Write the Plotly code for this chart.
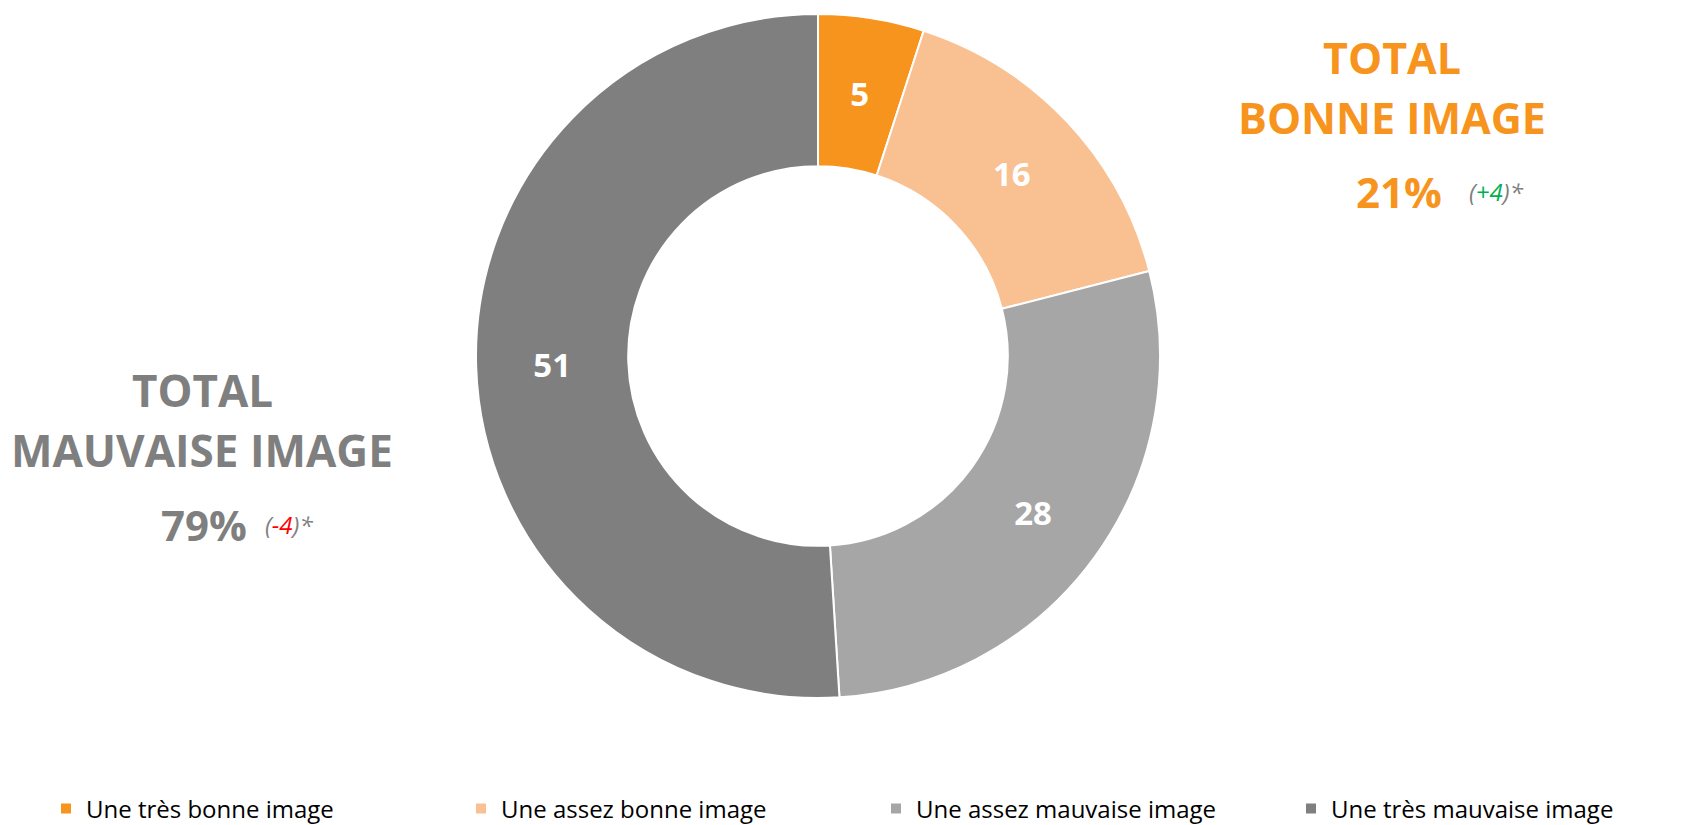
import plotly.graph_objects as go

labels = ["Une très bonne image", "Une assez bonne image", "Une assez mauvaise image", "Une très mauvaise image"]
values = [5, 16, 28, 51]
colors = ["#F7941D", "#F9C192", "#A6A6A6", "#7F7F7F"]

total_bonne = 21
delta_bonne = "+4"
total_mauvaise = 79
delta_mauvaise = "-4"

W, H = 1681, 825
OFF = 8  # page body margin
cx, cy, R = 818 - OFF, 356 - OFF, 342
HOLE = 0.555

def dom(r):
    return dict(x=[(cx - r) / W, (cx + r) / W], y=[1 - (cy + r) / H, 1 - (cy - r) / H])

# donut slices
fig = go.Figure(go.Pie(
    labels=labels, values=values, hole=HOLE, sort=False, direction="clockwise", rotation=0,
    marker=dict(colors=colors, line=dict(color="white", width=2)),
    textinfo="none", domain=dom(R), showlegend=True,
))

# value labels: transparent companion ring so every label sits at the middle of the donut ring
H2 = 0.73
R2 = R * (1 + HOLE) / 2 / ((1 + H2) / 2)
fig.add_trace(go.Pie(
    labels=labels, values=values, hole=H2, sort=False, direction="clockwise", rotation=0,
    marker=dict(colors=["rgba(0,0,0,0)"] * len(values), line=dict(width=0)),
    textinfo="value", textposition="inside", insidetextorientation="horizontal",
    textfont=dict(family="Open Sans", size=33, color="white", weight="bold"),
    domain=dom(R2), showlegend=False, hoverinfo="skip",
))

orange = "#F7941D"
gray = "#7F7F7F"

def ann(x, y, text, size, color, bold=True, xanchor="center"):
    fig.add_annotation(x=(x - OFF) / W, y=1 - (y - OFF) / H, xref="paper", yref="paper", text=text,
                       showarrow=False, xanchor=xanchor, yanchor="middle",
                       font=dict(family="Open Sans", size=size, color=color, weight="bold" if bold else "normal"))

ann(1392, 58, "TOTAL", 43, orange)
ann(1392, 118, "BONNE IMAGE", 43, orange)
ann(1399, 191, f"{total_bonne}%", 42, orange)
ann(1467, 191, f"<i>(<span style='color:#00B050'>{delta_bonne}</span>)*</i>", 24, gray, bold=False, xanchor="left")

ann(202, 390, "TOTAL", 44, gray)
ann(202, 450, "MAUVAISE IMAGE", 44, gray)
ann(204, 524, f"{total_mauvaise}%", 42, gray)
ann(263, 524, f"<i>(<span style='color:#FF0000'>{delta_mauvaise}</span>)*</i>", 24, gray, bold=False, xanchor="left")

fig.update_layout(
    width=W, height=H, margin=dict(l=0, r=0, t=0, b=0, autoexpand=False),
    paper_bgcolor="white", plot_bgcolor="white",
    legend=dict(orientation="h", x=0.0226, xanchor="left", y=1 - (809 - OFF) / H, yanchor="middle",
                entrywidth=370, entrywidthmode="pixels", bgcolor="rgba(0,0,0,0)",
                font=dict(family="Open Sans", size=24, color="#000000"), traceorder="normal"),
)

fig.write_html("out.html")
